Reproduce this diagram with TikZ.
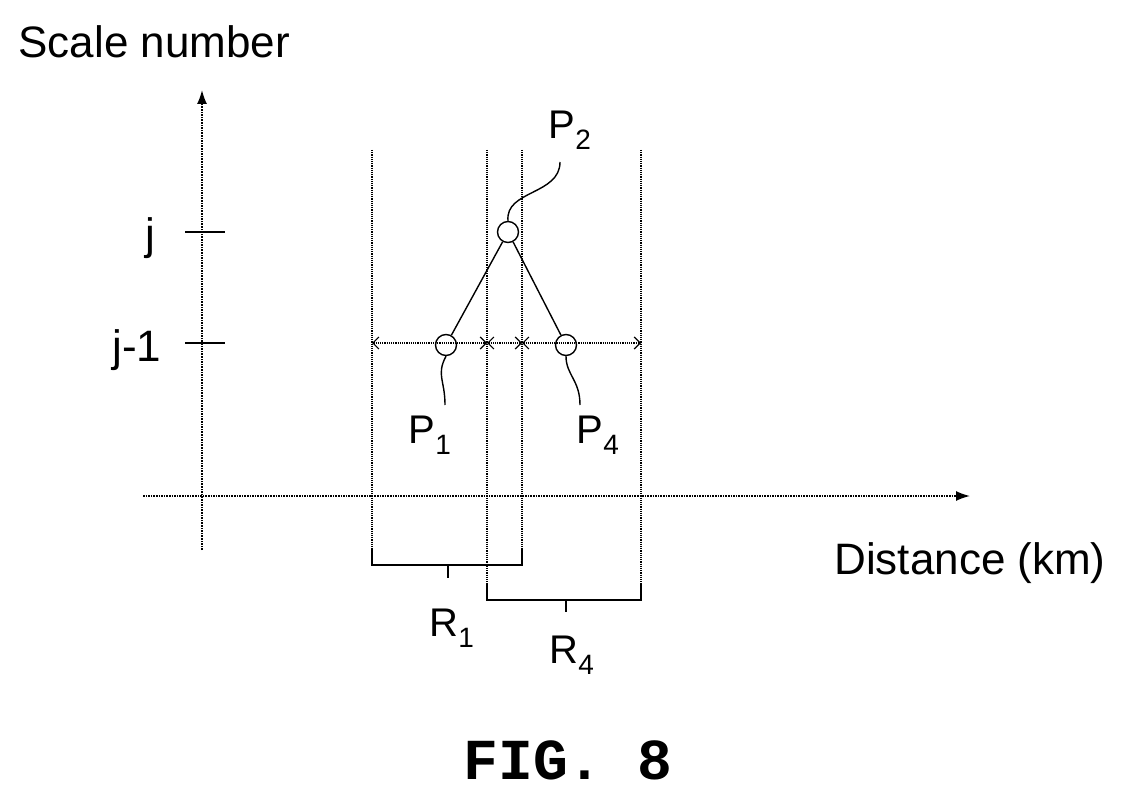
\documentclass[tikz,border=0pt]{standalone}
\usepackage{fontspec}
\setmainfont{Liberation Sans}
\newfontfamily\figfont{Liberation Mono}
\usetikzlibrary{arrows.meta}
\begin{document}
\begin{tikzpicture}[x=1pt,y=-1pt,
  ax/.style={densely dotted,line width=1.6pt,-{Latex[length=14pt,width=10pt]}},
  vl/.style={densely dotted,line width=1.2pt},
  dim/.style={densely dotted,line width=1.2pt,{Straight Barb[length=6pt]}-{Straight Barb[length=6pt]}},
  sl/.style={line width=1.4pt},
  pt/.style={circle,draw,line width=1.4pt,minimum size=21pt,inner sep=0pt},
  lab/.style={font=\fontsize{44}{48}\selectfont},
  sub/.style={font=\fontsize{40}{44}\selectfont}]
\useasboundingbox (0,0) rectangle (1140,799);
% axes
\coordinate (yb) at (202,550); \coordinate (yt) at (202,90);
\coordinate (xl) at (143,496); \coordinate (xr) at (970,496);
\draw[ax] (yb) -- (yt);
\draw[ax] (xl) -- (xr);
\draw[sl] (185,232) -- (225,232);
\draw[sl] (185,343) -- (225,343);
\node[lab,anchor=west] (sn) at (15,42) {Scale number};
\node[lab] (dk) at (970,563) {Distance (km)};
\node[lab] (j) at (150,238) {j};
\node[lab] (j1) at (137,350) {j-1};
% vertical lines
\draw[vl] (372,150) -- (372,565);
\draw[vl] (487,150) -- (487,600);
\draw[vl] (522,150) -- (522,565);
\draw[vl] (641,150) -- (641,600);
% dimension arrows
\draw[dim] (372,343) -- (487,343);
\draw[dim] (487,343) -- (522,343);
\draw[dim] (522,343) -- (641,343);
% points
\node[pt] (p2) at (508,232) {};
\node[pt] (p1) at (446,345) {};
\node[pt] (p4) at (566,345) {};
\draw[sl] (p2) -- (p1);
\draw[sl] (p2) -- (p4);
% leaders
\node[sub] (l2) at (570,130) {P\textsubscript{2}};
\node[sub] (l1) at (430,435) {P\textsubscript{1}};
\node[sub] (l4) at (598,435) {P\textsubscript{4}};
\draw[sl] (p2.north) .. controls (505,190) and (560,195) .. (560,162);
\draw[sl] (p1.south) .. controls (436,375) and (445,380) .. (445,405);
\draw[sl] (p4.south) .. controls (566,375) and (580,380) .. (580,405);
% brackets
\draw[sl] (372,548) -- (372,565) -- (522,565) -- (522,548);
\draw[sl] (448,565) -- (448,578);
\draw[sl] (487,585) -- (487,600) -- (641,600) -- (641,585);
\draw[sl] (566,600) -- (566,612);
\node[sub] (r1) at (452,628) {R\textsubscript{1}};
\node[sub] (r4) at (572,655) {R\textsubscript{4}};
\node[font=\figfont\bfseries\fontsize{58}{60}\selectfont] (fig) at (568,760) {FIG. 8};
\end{tikzpicture}
\end{document}
